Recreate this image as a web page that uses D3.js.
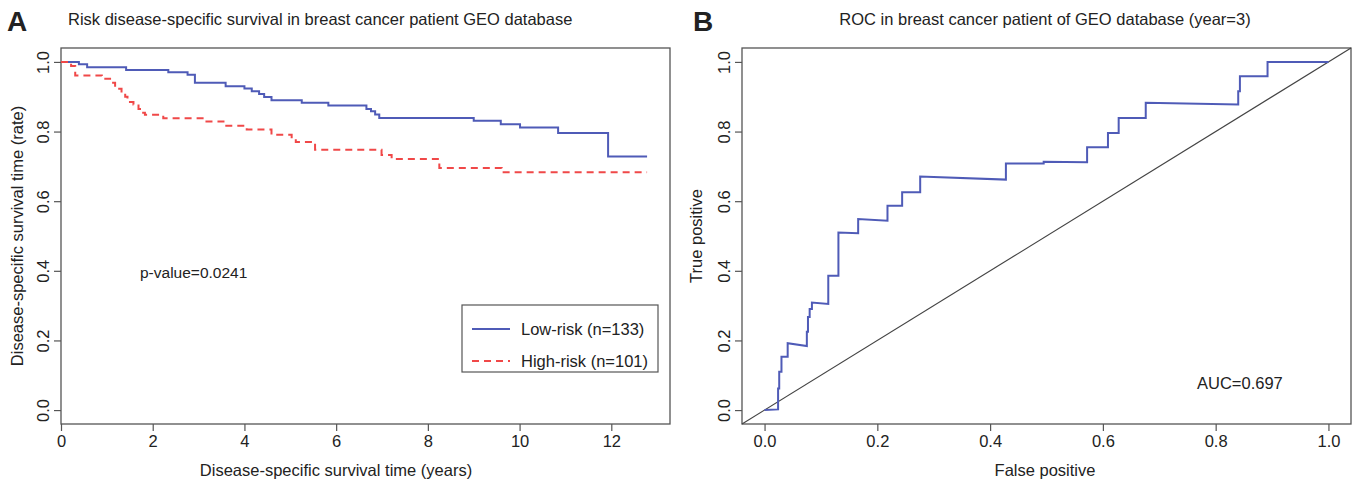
<!DOCTYPE html>
<html>
<head>
<meta charset="utf-8">
<script src="https://cdn.jsdelivr.net/npm/d3@7"></script>
<style>
  body { margin: 0; background: #fff; }
  svg { display: block; font-family: "Liberation Sans", Arial, sans-serif; }
</style>
</head>
<body>
<div id="chart"></div>
<script>
// Panel A: Kaplan-Meier steps (years, survival)
const lowTime  = [0, 0.39, 0.57, 1.42, 2.34, 2.76, 2.92, 3.59, 4.00, 4.16, 4.32, 4.43, 4.59, 5.25, 5.83, 6.66, 6.76, 6.85, 6.94, 9.00, 9.59, 10.01, 10.84, 11.93, 12.78];
const lowSurv  = [1.0, 0.993, 0.985, 0.977, 0.970, 0.963, 0.940, 0.930, 0.924, 0.916, 0.908, 0.899, 0.890, 0.883, 0.875, 0.865, 0.858, 0.849, 0.839, 0.831, 0.821, 0.812, 0.796, 0.728, 0.728];
const highTime = [0, 0.22, 0.31, 0.89, 1.07, 1.18, 1.32, 1.40, 1.45, 1.58, 1.69, 1.77, 1.83, 2.23, 3.14, 3.58, 4.05, 4.59, 5.03, 5.12, 5.54, 6.99, 7.21, 8.25, 9.61, 12.78];
const highSurv = [1.0, 0.988, 0.961, 0.952, 0.940, 0.923, 0.911, 0.900, 0.885, 0.878, 0.865, 0.854, 0.848, 0.838, 0.829, 0.817, 0.806, 0.791, 0.779, 0.770, 0.748, 0.733, 0.721, 0.695, 0.683, 0.683];
const timeTicks = [0, 2, 4, 6, 8, 10, 12];
const rateTicks = [0, 0.2, 0.4, 0.6, 0.8, 1.0];
const legendLabels = ["Low-risk (n=133)", "High-risk (n=101)"];

// Panel B: ROC vertices (false positive, true positive)
const rocFP = [0, 0.024, 0.024, 0.026, 0.026, 0.030, 0.030, 0.041, 0.041, 0.075, 0.075, 0.077, 0.077, 0.080, 0.080, 0.084, 0.084, 0.113, 0.113, 0.131, 0.131, 0.166, 0.166, 0.218, 0.218, 0.244, 0.244, 0.276, 0.276, 0.428, 0.428, 0.495, 0.495, 0.572, 0.572, 0.609, 0.609, 0.628, 0.628, 0.676, 0.676, 0.840, 0.840, 0.843, 0.843, 0.892, 0.892, 1.0];
const rocTP = [0, 0.002, 0.062, 0.062, 0.110, 0.110, 0.153, 0.153, 0.192, 0.184, 0.225, 0.225, 0.267, 0.267, 0.290, 0.290, 0.309, 0.305, 0.386, 0.386, 0.510, 0.508, 0.549, 0.544, 0.587, 0.587, 0.626, 0.626, 0.671, 0.662, 0.708, 0.708, 0.713, 0.712, 0.755, 0.755, 0.796, 0.796, 0.839, 0.839, 0.883, 0.878, 0.916, 0.916, 0.959, 0.959, 1.0, 1.0];
const fpTicks = [0, 0.2, 0.4, 0.6, 0.8, 1.0];
const aucText = "AUC=0.697";
const pText = "p-value=0.0241";

const W = 1354, H = 483;
const svg = d3.select("#chart").append("svg").attr("width", W).attr("height", H);

const axisCol = "#555", textCol = "#222";
const blue = "#4f5bb7", red = "#f04848";
const FS = 16.5;

const yA = d3.scaleLinear().domain([-0.04, 1.04]).range([424, 48]);
const xA = d3.scaleLinear().domain([0, 13.28]).range([61, 670]);
const xB = d3.scaleLinear().domain([-0.04, 1.04]).range([742, 1351]);
const yB = yA;

function drawAxes(x, y, xt, yt, xfmt) {
  const [x0, x1] = x.range(), [y0, y1] = y.range();
  svg.append("rect")
    .attr("x", x0).attr("y", y1).attr("width", x1 - x0).attr("height", y0 - y1)
    .attr("fill", "none").attr("stroke", axisCol).attr("stroke-width", 1.3);

  const gx = svg.append("g").attr("transform", `translate(0,${y0})`)
    .call(d3.axisBottom(x).tickValues(xt).tickFormat(xfmt).tickSize(7).tickPadding(4).tickSizeOuter(0));
  gx.select(".domain").remove();
  gx.selectAll("line").attr("stroke", axisCol).attr("stroke-width", 1.2);
  gx.selectAll("text").style("font-size", FS + "px").attr("fill", textCol);

  const gy = svg.append("g").attr("transform", `translate(${x0},0)`)
    .call(d3.axisLeft(y).tickValues(yt).tickFormat(d3.format(".1f")).tickSize(7).tickSizeOuter(0));
  gy.select(".domain").remove();
  gy.selectAll("line").attr("stroke", axisCol).attr("stroke-width", 1.2);
  gy.selectAll("text")
    .style("font-size", FS + "px").attr("fill", textCol)
    .attr("text-anchor", "middle")
    .attr("x", 0).attr("dy", 0).attr("y", -12)
    .attr("transform", "rotate(-90)");
}

function label(x, y, txt, opts = {}) {
  const t = svg.append("text")
    .attr("x", x).attr("y", y)
    .attr("fill", textCol)
    .style("font-size", (opts.size || FS) + "px")
    .attr("text-anchor", opts.anchor || "start")
    .text(txt);
  if (opts.bold) t.style("font-weight", "bold");
  if (opts.rotate) t.attr("transform", `rotate(-90,${x},${y})`);
  return t;
}

// ---- Panel A ----
drawAxes(xA, yA, timeTicks, rateTicks, d3.format("d"));

const kmLine = d3.line().x(d => xA(d[0])).y(d => yA(d[1])).curve(d3.curveStepAfter);
svg.append("path")
  .datum(lowTime.map((t, i) => [t, lowSurv[i]]))
  .attr("d", kmLine).attr("fill", "none")
  .attr("stroke", blue).attr("stroke-width", 2);
svg.append("path")
  .datum(highTime.map((t, i) => [t, highSurv[i]]))
  .attr("d", kmLine).attr("fill", "none")
  .attr("stroke", red).attr("stroke-width", 2).attr("stroke-dasharray", "7,5");

label(7, 31, "A", { size: 28, bold: true });
label(68, 25, "Risk disease-specific survival in breast cancer patient GEO database");
label(23, 236, "Disease-specific survival time (rate)", { anchor: "middle", rotate: true });
label(336, 476, "Disease-specific survival time (years)", { anchor: "middle" });
label(140, 278, pText, { size: 15.5 });

// legend
const lg = svg.append("g");
lg.append("rect").attr("x", 462).attr("y", 305).attr("width", 196).attr("height", 67)
  .attr("fill", "#fff").attr("stroke", axisCol).attr("stroke-width", 1.2);
[[blue, null], [red, "7,5"]].forEach(([c, dash], i) => {
  const yy = 329 + i * 32;
  lg.append("line").attr("x1", 472).attr("x2", 510).attr("y1", yy).attr("y2", yy)
    .attr("stroke", c).attr("stroke-width", 2).attr("stroke-dasharray", dash);
  lg.append("text").attr("x", 521).attr("y", yy + 6).attr("fill", textCol)
    .style("font-size", FS + "px").text(legendLabels[i]);
});

// ---- Panel B ----
drawAxes(xB, yB, fpTicks, rateTicks, d3.format(".1f"));

svg.append("line")
  .attr("x1", xB(-0.04)).attr("y1", yB(-0.04)).attr("x2", xB(1.04)).attr("y2", yB(1.04))
  .attr("stroke", "#444").attr("stroke-width", 1.2);

const rocLine = d3.line().x(d => xB(d[0])).y(d => yB(d[1]));
svg.append("path")
  .datum(rocFP.map((f, i) => [f, rocTP[i]]))
  .attr("d", rocLine).attr("fill", "none")
  .attr("stroke", blue).attr("stroke-width", 2);

label(693, 31, "B", { size: 28, bold: true });
label(1045, 25, "ROC in breast cancer patient of GEO database (year=3)", { anchor: "middle" });
label(702, 236, "True positive", { anchor: "middle", rotate: true });
label(1045, 476, "False positive", { anchor: "middle" });
label(1197, 389, aucText);
</script>
</body>
</html>
